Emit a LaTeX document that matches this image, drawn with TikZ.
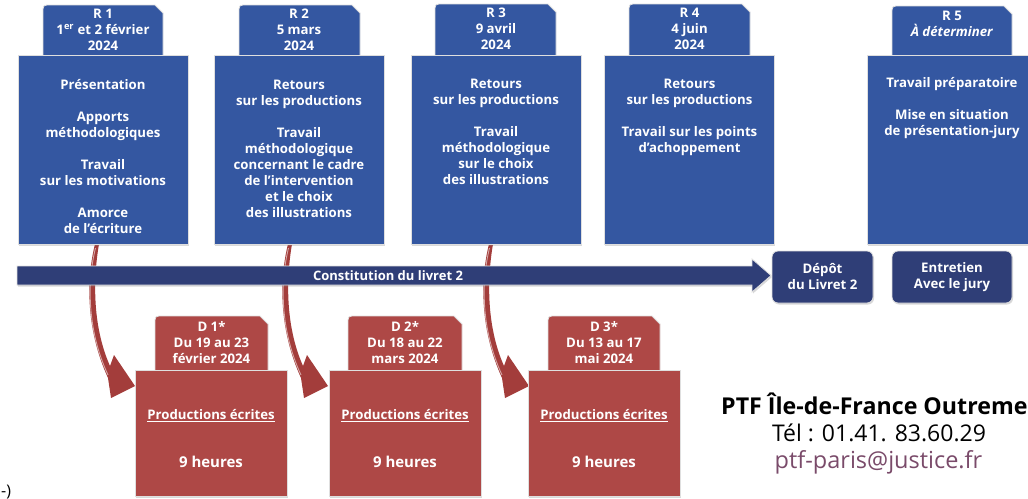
\documentclass[tikz,border=0pt]{standalone}
\usepackage{fontspec}
\setmainfont{Open Sans}
\usetikzlibrary{shadows,calc}
\definecolor{boxblue}{HTML}{3457A1}
\definecolor{navy}{HTML}{2F3E77}
\definecolor{boxred}{HTML}{AE4846}
\definecolor{arrred}{HTML}{A33D3B}
\definecolor{mailc}{HTML}{7A4B6A}
\newcommand\mytab[5]{%
  \path[#1] (#2,#5) -- (#2,#3+8) .. controls (#2,#3) .. (#2+8,#3) -- (#4-8,#3) -- (#4,#3+8) -- (#4,#5) -- cycle;}
\newcommand\curvarrow{%
  \fill[arrred] (-2,0) .. controls (-11,36) and (-11,86) .. (11,134) -- (14,154) -- (38,142) -- (17,111) -- (13,122) .. controls (-3,86) and (-5,41) .. (2,0) -- cycle;
  \draw[white, opacity=0.55, line width=0.9pt] (-1.5,4) .. controls (-10,38) and (-10,86) .. (11,131);}
\begin{document}
\begin{tikzpicture}[x=1pt,y=-1pt,
  shad/.style={drop shadow={shadow xshift=1pt,shadow yshift=-1.5pt,opacity=0.3}},
  blueb/.style={fill=boxblue, draw=gray!25, line width=0.8pt, shad, minimum width=170pt, minimum height=189pt, anchor=north west, inner sep=0pt, outer sep=0pt},
  bluetab/.style={fill=boxblue, draw=gray!25, line width=0.8pt},
  redb/.style={fill=boxred, draw=gray!25, line width=0.8pt, shad, minimum width=152pt, minimum height=126pt, anchor=north west, inner sep=0pt, outer sep=0pt},
  redtab/.style={fill=boxred, draw=gray!25, line width=0.8pt},
  hdr/.style={text=white, font=\bfseries\fontsize{13.2}{16}\selectfont, align=center, inner sep=0pt, anchor=north},
  body/.style={text=white, font=\bfseries\fontsize{13.2}{16}\selectfont, align=center, inner sep=0pt, anchor=north},
  prod/.style={text=white, font=\bfseries\fontsize{13.2}{16}\selectfont, inner sep=0pt},
  hrs/.style={text=white, font=\bfseries\fontsize{15}{17}\selectfont, inner sep=0pt},
  navyb/.style={fill=navy, draw=gray!25, line width=0.8pt, shad, rounded corners=6pt, text=white, align=center, inner sep=0pt, minimum height=52pt},
  navybar/.style={fill=navy, draw=gray!25, line width=0.8pt, shad},
  lbl/.style={text=white, font=\bfseries\fontsize{13}{15}\selectfont, inner sep=0pt},
]
\useasboundingbox (0,0) rectangle (1028,498);
\clip (0,0) rectangle (1028,498);

% box anchors for curved arrows
\coordinate (a1) at (97,244);
\coordinate (a2) at (290,244);
\coordinate (a3) at (491,244);
\begin{scope}[shift={(a1)}]\curvarrow\end{scope}
\begin{scope}[shift={(a2)}]\curvarrow\end{scope}
\begin{scope}[shift={(a3)}]\curvarrow\end{scope}

% timeline bar
\path[navybar] (17,266) -- (752,266) -- (752,259) -- (771,275.5) -- (752,292) -- (752,285) -- (17,285) -- cycle;
\node[lbl] (bar) at (388,276) {Constitution du livret 2};

% R1
\mytab{bluetab}{43}{5}{163}{56}
\node[blueb] (r1box) at (18,55) {};
\node[hdr] (r1h) at (103,8.5) {R 1\\1\textsuperscript{er} et 2 février\\2024};
\node[body] (r1t) at (103,79.5) {Présentation\\[16pt]Apports\\méthodologiques\\[16pt]Travail\\sur les motivations\\[16pt]Amorce\\de l’écriture};

% R2
\mytab{bluetab}{239}{5}{360}{56}
\node[blueb] (r2box) at (214,55) {};
\node[hdr] (r2h) at (299,8.5) {R 2\\5 mars\\2024};
\node[body] (r2t) at (299,79.5) {Retours\\sur les productions\\[16pt]Travail\\méthodologique\\concernant le cadre\\de l’intervention\\et le choix\\des illustrations};

% R3
\mytab{bluetab}{435}{4}{556}{56}
\node[blueb] (r3box) at (411,55) {};
\node[hdr] (r3h) at (496,8) {R 3\\9 avril\\2024};
\node[body] (r3t) at (496,78.5) {Retours\\sur les productions\\[16pt]Travail\\méthodologique\\sur le choix\\des illustrations};

% R4
\mytab{bluetab}{629}{4}{750}{56}
\node[blueb] (r4box) at (604,55) {};
\node[hdr] (r4h) at (689.5,8) {R 4\\4 juin\\2024};
\node[body] (r4t) at (689.5,78.5) {Retours\\sur les productions\\[16pt]Travail sur les points\\d’achoppement};

% R5
\mytab{bluetab}{892}{6}{1012}{56}
\node[blueb] (r5box) at (867,55) {};
\node[hdr] (r5h) at (952,10.5) {R 5\\\textit{À déterminer}};
\node[body] (r5t) at (952,77.5) {Travail préparatoire\\[16pt]Mise en situation\\de présentation-jury};

% Depot / Entretien
\node[navyb, minimum width=101pt, font=\bfseries\fontsize{13.2}{16}\selectfont] (depot) at (822.5,277) {Dépôt\\du Livret 2};
\node[navyb, minimum width=120pt, font=\bfseries\fontsize{13.2}{16.5}\selectfont] (entretien) at (952,277) {Entretien\\Avec le jury};

% D1
\mytab{redtab}{155}{316}{268}{371}
\node[redb] (d1box) at (135,370) {};
\node[hdr] (d1h) at (211.5,321) {D 1*\\Du 19 au 23\\février 2024};
\node[prod] (d1p) at (211,416) {\underline{Productions écrites}};
\node[hrs] (d1n) at (211,462) {9 heures};

% D2
\mytab{redtab}{348}{316}{462}{371}
\node[redb] (d2box) at (329,370) {};
\node[hdr] (d2h) at (405,321) {D 2*\\Du 18 au 22\\mars 2024};
\node[prod] (d2p) at (405,416) {\underline{Productions écrites}};
\node[hrs] (d2n) at (405,462) {9 heures};

% D3
\mytab{redtab}{548}{316}{660}{371}
\node[redb] (d3box) at (528,370) {};
\node[hdr] (d3h) at (604,321) {D 3*\\Du 13 au 17\\mai 2024};
\node[prod] (d3p) at (604,416) {\underline{Productions écrites}};
\node[hrs] (d3n) at (604,462) {9 heures};

% contact
\node[anchor=west, inner sep=0pt, font=\bfseries\fontsize{23.2}{25}\selectfont] (ptf) at (721,404) {PTF Île-de-France Outreme};
\node[inner sep=0pt, font=\fontsize{23}{26}\selectfont] (tel) at (879,433) {Tél : 01.41. 83.60.29};
\node[inner sep=0pt, text=mailc, font=\fontsize{23.5}{26}\selectfont] (mail) at (878.5,462) {ptf-paris@justice.fr};

% fragment bottom-left
\node[anchor=north west, inner sep=0pt, font=\fontsize{16}{18}\selectfont] (frag) at (1,485) {-)};
\end{tikzpicture}
\end{document}
